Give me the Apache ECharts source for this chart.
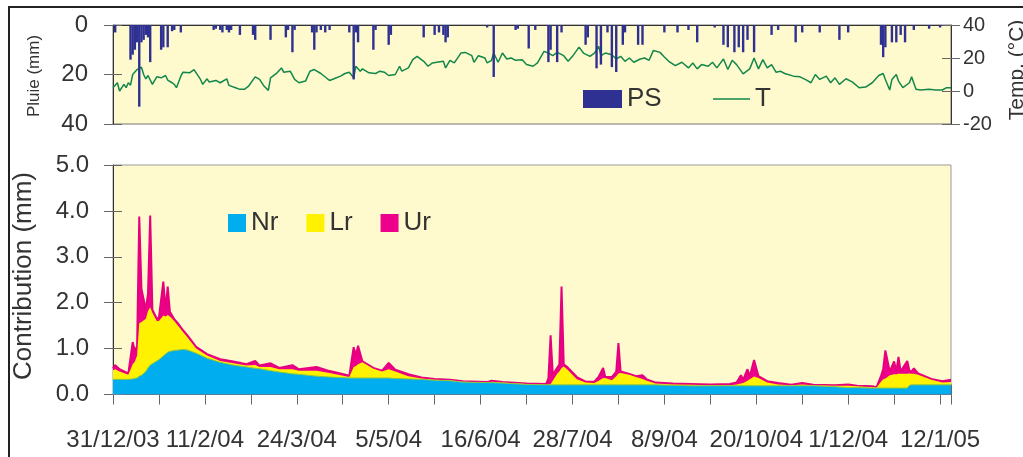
<!DOCTYPE html>
<html><head><meta charset="utf-8">
<script src="https://cdn.jsdelivr.net/npm/echarts@6/dist/echarts.min.js"></script>
<style>html,body{margin:0;padding:0;background:#fff;}#c{width:1023px;height:457px;}</style>
</head><body><div id="c"></div>
<script>
// x values are days after 31/12/03
const tickLabels = ['31/12/03','11/2/04','24/3/04','5/5/04','16/6/04','28/7/04','8/9/04','20/10/04','1/12/04','12/1/05'];

// PS: daily rain (mm)
const rainDays = [1,8,9,10,11,12,13,14,15,16,17,22,23,25,27,28,31,46,47,49,50,52,53,54,58,64,65,72,79,80,82,83,91,92,93,95,97,99,108,110,111,112,119,120,126,127,142,147,149,151,152,153,171,174,184,185,190,193,199,200,203,205,216,217,221,223,226,228,230,233,234,240,242,252,258,263,267,275,279,281,284,286,288,290,293,301,304,312,315,323,332,336,351,352,353,356,358,360,362,366,373,378];
const rainMm   = [3,14,12,10,7,33,7,6,4,5,15,10,9,9,2.5,2,3,2,1.5,2,3,2,3,2,4,4,6,6,5,2,11,2,3,10,3,2,3,2,3,22,3,7,10,2,8,4,5,4,3,4,7,5,1,21,2,1.5,9.5,2,15,10,15,3,8,5,17.5,16,3,17,19,8,3,8,8,3,3,2,7,1,8,9,11,9,11,6,11,4,2,7,3,3,6,3,8,13,9,7,7,4,7,2,1.5,1];

// T: temperature (°C)
const tempDays = [0,2,3,5,6,7,8,9,11,13,14,15,16,18,20,22,24,25,27,28,29,31,32,35,37,40,41,43,44,47,49,52,53,56,58,60,62,65,67,69,71,72,75,77,78,81,83,85,88,90,92,95,98,99,101,104,106,108,110,111,113,114,117,120,122,124,126,129,131,132,135,137,139,142,144,146,148,151,152,154,156,159,161,164,165,167,170,171,173,174,176,178,180,182,184,187,189,192,194,197,199,201,203,206,208,210,213,215,218,220,222,223,225,228,230,232,234,236,238,241,243,245,247,250,252,254,257,260,263,265,267,269,272,274,276,279,281,283,285,288,291,293,295,297,299,301,303,305,307,311,314,317,319,321,323,326,328,330,332,335,338,341,344,347,350,352,353,355,356,358,359,361,364,365,367,369,373,376,379,381,383];
const tempC    = [2,5,0,4,2,5,3.5,10,13,14.4,10,7.4,9.4,4,8.6,8,9.4,6.6,5,4,2,9,11.4,11,13,7,4,7.4,5.4,6.4,5,7.4,3.4,2,1,1,3,8.6,7,3,0.4,8,11,14,11.4,12,7,5,6,12,13,10.6,7.4,6.4,7.4,9,10.6,11.4,8,15,12,13.4,11,10.6,12,11.4,9.4,10,15,12,14,19,21,18,15,17,17.4,18,14,18.6,17,23,23.4,21.4,17.4,21.4,20,17,18.6,23,17.4,23,19.4,20,18.6,19,16,15,17,24,23,21.4,23.4,21.4,18,21,26.6,23,21,23,27,21.4,23,22,19.4,21,18,20,17.4,19.4,20,18.6,24.6,23.4,20.6,18,15.4,17.4,14,17,13.4,16,15,17.4,14,19.4,13,18.6,16,10.4,13.4,20,13.4,19,14,16,11.4,12,10.6,9,8.6,6.6,5,10,7,9,5,8,4,7.4,5.4,2,2.4,5,9.4,10.6,7,0.6,7,10,6,2,5,8.6,1,0.6,1,0.6,0.6,2,2];

// Contributions (mm): Nr, Lr, Ur (stacked in this order)
const days = [0,1,3,7,9,10,11,12,13,15,16,17,18,20,21,23,24,25,26,28,30,32,34,38,43,49,55,61,65,67,72,76,82,85,93,99,104,108,110,111,112,114,119,123,126,129,135,141,147,154,160,171,173,178,189,198,199,200,201,203,204,205,206,208,212,216,220,222,224,225,228,230,231,232,236,239,242,244,248,256,264,273,282,285,287,288,290,291,293,295,299,304,310,315,320,330,336,340,347,349,351,352,353,355,357,358,359,360,363,364,365,366,368,374,379,383];
const nr = [.33,.33,.33,.33,.34,.35,.36,.40,.42,.50,.58,.64,.67,.73,.76,.84,.88,.92,.94,.96,.97,.98,.97,.90,.79,.70,.64,.60,.57,.56,.52,.49,.45,.44,.40,.38,.37,.36,.36,.36,.36,.36,.36,.36,.36,.35,.34,.33,.31,.30,.27,.26,.26,.25,.22,.21,.21,.21,.21,.21,.21,.21,.21,.21,.21,.21,.21,.21,.21,.21,.21,.21,.21,.21,.21,.21,.21,.21,.21,.20,.19,.19,.19,.19,.19,.19,.19,.19,.19,.19,.19,.19,.19,.19,.19,.17,.15,.15,.14,.14,.14,.14,.14,.14,.14,.14,.14,.14,.14,.20,.21,.21,.21,.21,.21,.21];
const lr = [.20,.22,.17,.10,.32,.37,.49,1.15,1.16,1.15,1.24,1.26,1.11,.87,.84,.88,.82,.81,.76,.64,.51,.38,.28,.10,.06,.03,.04,.03,.07,.04,.08,.06,.10,.08,.12,.09,.05,.02,.24,.26,.30,.34,.20,.14,.19,.15,.06,.02,.01,.01,.01,.00,.02,.01,.01,.00,.01,.02,.09,.24,.29,.37,.40,.32,.12,.05,.04,.09,.15,.15,.10,.19,.25,.26,.22,.17,.13,.09,.03,.02,.02,.01,.01,.03,.05,.06,.11,.14,.20,.17,.07,.03,.01,.03,.01,.02,.04,.03,.02,.01,.14,.19,.21,.28,.30,.30,.31,.31,.31,.26,.24,.24,.22,.11,.05,.06];
const ur = [.04,.09,.05,.03,.48,.23,.20,2.33,.72,.20,.38,2.00,.07,.05,.08,.74,.15,.62,.10,.04,.05,.04,.04,.04,.03,.04,.04,.03,.09,.03,.08,.03,.09,.03,.08,.04,.04,.03,.43,.23,.40,.02,.02,.02,.14,.04,.04,.02,.02,.01,.01,.01,.02,.01,.01,.02,.13,1.06,.13,.13,.15,1.77,.05,.05,.05,.02,.03,.09,.22,.02,.07,.10,.66,.03,.02,.02,.08,.03,.02,.02,.02,.02,.03,.04,.18,.07,.25,.06,.36,.04,.03,.03,.01,.03,.01,.01,.03,.01,.02,.01,.12,.22,.61,.08,.28,.06,.37,.05,.28,.06,.05,.12,.03,.02,.03,.05];

const FONT = '"Liberation Sans", Arial, sans-serif';
const plotBg = '#FFF9CE';
const axisDark = '#333';
const tickGrey = '#666';
const txt = '#333';
const C_NR = '#00AEEF', C_LR = '#FFF200', C_UR = '#EC008C', C_PS = '#2E3192', C_T = '#12874A';
const pair = (xs, ys) => xs.map((x, i) => [x, ys[i]]);
// cumulative tops of the stacked layers (painted back to front)
const topNr = nr.slice();
const topLr = nr.map((v, i) => v + lr[i]);
const topUr = nr.map((v, i) => v + lr[i] + ur[i]);
const XMAX = 383;

const chart = echarts.init(document.getElementById('c'), null, {renderer: 'canvas'});
const noSplit = {show: false};
const legendText = {fontSize: 26, color: txt, fontFamily: FONT, lineHeight: 26};
chart.setOption({
  animation: false,
  textStyle: {fontFamily: FONT},
  grid: [
    {left: 113, top: 25, width: 838, height: 99, show: true, backgroundColor: plotBg, borderColor: '#777', borderWidth: 1},
    {left: 113, top: 165, width: 838, height: 229.5, show: true, backgroundColor: plotBg, borderColor: '#999', borderWidth: 1}
  ],
  xAxis: [
    {gridIndex: 0, type: 'value', min: 0, max: XMAX, position: 'top',
     axisLine: {show: true, lineStyle: {color: axisDark}}, axisTick: {show: false}, axisLabel: {show: false}, splitLine: noSplit},
    {gridIndex: 1, type: 'value', min: 0, max: XMAX, interval: 21, position: 'bottom',
     axisLine: {show: true, lineStyle: {color: axisDark}},
     axisTick: {show: true, length: 10, lineStyle: {color: tickGrey}},
     axisLabel: {margin: 34, fontSize: 24, color: txt, fontFamily: FONT,
       formatter: v => (v % 42 === 0 && tickLabels[v / 42] !== undefined) ? tickLabels[v / 42] : ''},
     splitLine: noSplit},
    {gridIndex: 1, type: 'value', min: 0, max: XMAX, interval: 21, position: 'bottom',
     axisLine: {show: false}, axisTick: {show: true, inside: true, length: 10, lineStyle: {color: tickGrey}},
     axisLabel: {show: false}, splitLine: noSplit}
  ],
  yAxis: [
    {gridIndex: 0, type: 'value', inverse: true, min: 0, max: 40, interval: 20, position: 'left',
     axisLine: {show: true, lineStyle: {color: axisDark}}, axisTick: {show: true, length: 9, lineStyle: {color: tickGrey}},
     axisLabel: {fontSize: 24, color: txt, margin: 25, fontFamily: FONT}, splitLine: noSplit},
    {gridIndex: 0, type: 'value', min: -20, max: 40, interval: 20, position: 'right',
     axisLine: {show: true, lineStyle: {color: axisDark}}, axisTick: {show: true, length: 9, lineStyle: {color: tickGrey}},
     axisLabel: {fontSize: 20, color: txt, margin: 12, fontFamily: FONT}, splitLine: noSplit},
    {gridIndex: 0, type: 'value', inverse: true, min: 0, max: 40, interval: 20, position: 'left',
     axisLine: {show: false}, axisTick: {show: true, inside: true, length: 9, lineStyle: {color: tickGrey}},
     axisLabel: {show: false}, splitLine: noSplit},
    {gridIndex: 0, type: 'value', min: -20, max: 40, interval: 20, position: 'right',
     axisLine: {show: false}, axisTick: {show: true, inside: true, length: 9, lineStyle: {color: tickGrey}},
     axisLabel: {show: false}, splitLine: noSplit},
    {gridIndex: 1, type: 'value', min: 0, max: 5, interval: 1, position: 'left',
     axisLine: {show: true, lineStyle: {color: axisDark}}, axisTick: {show: true, length: 9, lineStyle: {color: tickGrey}},
     axisLabel: {fontSize: 24, color: txt, margin: 24, fontFamily: FONT, formatter: v => v.toFixed(1)}, splitLine: noSplit},
    {gridIndex: 1, type: 'value', min: 0, max: 5, interval: 1, position: 'left',
     axisLine: {show: false}, axisTick: {show: true, inside: true, length: 9, lineStyle: {color: tickGrey}},
     axisLabel: {show: false}, splitLine: noSplit}
  ],
  legend: [
    {data: [{name: 'PS', icon: 'rect', itemStyle: {color: C_PS, borderWidth: 0}}], left: 583, top: 86,
     itemWidth: 39, itemHeight: 18, padding: 0, selectedMode: false, textStyle: legendText},
    {data: [{name: 'T', icon: 'rect', itemStyle: {color: C_T, borderWidth: 0}}], left: 713, top: 86,
     itemWidth: 37, itemHeight: 1.5, padding: 0, selectedMode: false, textStyle: legendText},
    {data: [{name: 'Nr', icon: 'rect', itemStyle: {color: C_NR, borderWidth: 0}},
            {name: 'Lr', icon: 'rect', itemStyle: {color: C_LR, borderWidth: 0}},
            {name: 'Ur', icon: 'rect', itemStyle: {color: C_UR, borderWidth: 0}}], left: 228, top: 210,
     itemWidth: 18, itemHeight: 18, itemGap: 28, padding: 0, selectedMode: false, textStyle: legendText}
  ],
  series: [
    {name: 'T', type: 'line', xAxisIndex: 0, yAxisIndex: 1, data: pair(tempDays, tempC), symbol: 'none',
     lineStyle: {color: C_T, width: 1.5}, itemStyle: {color: C_T}, z: 2},
    {name: 'PS', type: 'bar', xAxisIndex: 0, yAxisIndex: 0, data: pair(rainDays, rainMm), barWidth: 2.4,
     itemStyle: {color: C_PS}, z: 3},
    {name: 'Ur', type: 'line', xAxisIndex: 1, yAxisIndex: 4, data: pair(days, topUr), symbol: 'none', z: 2,
     lineStyle: {color: '#E6007E', width: 2}, areaStyle: {color: C_UR, opacity: 1, origin: 'start'}, itemStyle: {color: C_UR}},
    {name: 'Lr', type: 'line', xAxisIndex: 1, yAxisIndex: 4, data: pair(days, topLr), symbol: 'none', z: 3,
     lineStyle: {width: 0, opacity: 0}, areaStyle: {color: C_LR, opacity: 1, origin: 'start'}, itemStyle: {color: C_LR}},
    {name: 'Nr', type: 'line', xAxisIndex: 1, yAxisIndex: 4, data: pair(days, topNr), symbol: 'none', z: 4,
     lineStyle: {color: '#8DC63F', width: 1}, areaStyle: {color: C_NR, opacity: 1, origin: 'start'}, itemStyle: {color: C_NR}}
  ],
  graphic: [
    {type: 'rect', silent: true, z: 100, shape: {x: 9, y: 7, width: 1100, height: 600},
     style: {fill: 'none', stroke: '#222', lineWidth: 2}},
    {type: 'text', silent: true, x: 34, y: 76, rotation: Math.PI / 2,
     style: {text: 'Pluie (mm)', font: '17px ' + FONT, fill: txt, align: 'center', verticalAlign: 'middle'}},
    {type: 'text', silent: true, x: 24, y: 276, rotation: Math.PI / 2,
     style: {text: 'Contribution (mm)', font: '26px ' + FONT, fill: txt, align: 'center', verticalAlign: 'middle'}},
    {type: 'text', silent: true, x: 1017, y: 70, rotation: Math.PI / 2,
     style: {text: 'Temp. (°C)', font: '21px ' + FONT, fill: txt, align: 'center', verticalAlign: 'middle'}}
  ]
});
</script>
</body></html>
